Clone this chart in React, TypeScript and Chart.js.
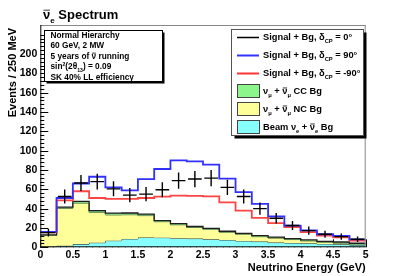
import React, { useEffect, useRef } from 'react';
import { Chart, registerables } from 'chart.js';
Chart.register(...registerables);

// Energy bin edges (GeV), 20 bins of 250 MeV
const binEdges = [0, 0.25, 0.5, 0.75, 1, 1.25, 1.5, 1.75, 2, 2.25, 2.5, 2.75, 3, 3.25, 3.5, 3.75, 4, 4.25, 4.5, 4.75, 5];

// Signal + Bg, dCP = 0 (points with error bars)
const signalDcp0 = [15.2, 52.5, 66.5, 68, 60.5, 54, 55, 59.5, 69, 70.6, 71.6, 62, 52.6, 40, 30, 22.5, 17.3, 13.5, 11, 8.3];
const signalDcp0Err = [3.9, 7.2, 8.2, 8.2, 7.8, 7.3, 7.4, 7.7, 8.3, 8.4, 8.5, 7.9, 7.3, 6.3, 5.5, 4.7, 4.2, 3.7, 3.3, 2.9];
// Signal + Bg, dCP = 90
const signalDcp90 = [16, 51, 66, 73, 62, 59, 70.5, 81, 90, 89, 85.5, 71, 57, 45, 32, 22.5, 17.5, 13.5, 11.8, 8.3];
// Signal + Bg, dCP = -90
const signalDcpM90 = [15.5, 48.5, 58, 51, 50, 50, 51, 52.5, 53.5, 53.3, 52.6, 46.4, 38, 30.5, 25, 21, 15.6, 12, 10.4, 7];
// Backgrounds (stacked: beam at bottom, NC, then CC on top)
const beamBg = [0.5, 1.5, 3.3, 4.8, 6.9, 8.7, 10.2, 10, 9.4, 9, 8.3, 7.6, 6.6, 5.9, 4.9, 4.5, 4.2, 3.5, 3.1, 2.4];
const ncBg = [11.8, 38.8, 42.4, 31.4, 26.6, 25, 22.6, 16.5, 13.9, 11.5, 10.2, 8, 6.9, 5.1, 4.6, 3.5, 2.4, 1.7, 1.2, 0.3];
const ccBg = [0.5, 1.2, 1.8, 1.8, 1.8, 1.8, 1.5, 1.2, 1.2, 1, 1, 1, 1, 1, 1, 1, 1, 1, 1.2, 1.5];

const yMax = 230;

const FONT = '"Liberation Sans", Arial, Helvetica, sans-serif';

type Seg = { t: string; sub?: boolean; sup?: boolean; bar?: boolean };

function drawRich(ctx: CanvasRenderingContext2D, segs: Seg[], x: number, y: number, size: number) {
  ctx.textBaseline = 'alphabetic';
  ctx.textAlign = 'left';
  let cx = x;
  for (const s of segs) {
    const small = s.sub || s.sup;
    const fs = small ? size * 0.62 : size;
    ctx.font = `bold ${fs}px ${FONT}`;
    const dy = s.sub ? size * 0.28 : s.sup ? -size * 0.42 : 0;
    ctx.fillText(s.t, cx, y + dy);
    const w = ctx.measureText(s.t).width;
    if (s.bar) {
      ctx.save();
      ctx.lineWidth = 0.8;
      ctx.strokeStyle = ctx.fillStyle as string;
      ctx.beginPath();
      ctx.moveTo(cx + 0.5, y - size * 0.68);
      ctx.lineTo(cx + w - 0.3, y - size * 0.68);
      ctx.stroke();
      ctx.restore();
    }
    cx += w;
  }
  return cx - x;
}

function stepPoints(vals: number[]) {
  return binEdges.map((e, i) => ({ x: e, y: vals[Math.min(i, vals.length - 1)] }));
}

const overlayPlugin = {
  id: 'overlay',
  beforeDatasetsDraw(chart: any) {
    const ctx = chart.ctx as CanvasRenderingContext2D;
    const xs = chart.scales.x;
    const ys = chart.scales.y;
    const ca = chart.chartArea;
    ctx.save();
    ctx.strokeStyle = '#000';
    ctx.lineWidth = 1;
    // x ticks
    for (let i = 0; i <= 50; i++) {
      const v = i * 0.1;
      const px = Math.round(xs.getPixelForValue(v)) + 0.5;
      const len = i % 5 === 0 ? 8 : 4;
      ctx.beginPath();
      ctx.moveTo(px, ca.bottom);
      ctx.lineTo(px, ca.bottom - len);
      ctx.stroke();
    }
    ctx.restore();
  },
  afterDatasetsDraw(chart: any) {
    const ctx = chart.ctx as CanvasRenderingContext2D;
    const xs = chart.scales.x;
    const ys = chart.scales.y;
    const ca = chart.chartArea;
    ctx.save();
    // error-bar crosses for dCP = 0
    ctx.strokeStyle = '#000';
    ctx.lineWidth = 1.4;
    for (let i = 0; i < signalDcp0.length; i++) {
      const lo = binEdges[i];
      const hi = binEdges[i + 1];
      const c = (lo + hi) / 2;
      const w = (hi - lo) * 0.42;
      const v = signalDcp0[i];
      const e = signalDcp0Err[i];
      ctx.beginPath();
      ctx.moveTo(xs.getPixelForValue(c - w), ys.getPixelForValue(v));
      ctx.lineTo(xs.getPixelForValue(c + w), ys.getPixelForValue(v));
      ctx.moveTo(xs.getPixelForValue(c), ys.getPixelForValue(v - e));
      ctx.lineTo(xs.getPixelForValue(c), ys.getPixelForValue(v + e));
      ctx.stroke();
    }

    // y ticks
    ctx.lineWidth = 1;
    for (let i = 0; i <= 55; i++) {
      const v = i * 4;
      if (v > 220) break;
      const py = Math.round(ys.getPixelForValue(v)) + 0.5;
      const len = i % 5 === 0 ? 8 : 4;
      ctx.beginPath();
      ctx.moveTo(ca.left, py);
      ctx.lineTo(ca.left + len, py);
      ctx.stroke();
    }

    // frame
    ctx.strokeStyle = '#888';
    ctx.lineWidth = 1;
    ctx.beginPath();
    ctx.moveTo(ca.left, ca.top + 0.5);
    ctx.lineTo(ca.right, ca.top + 0.5);
    ctx.moveTo(ca.right - 0.5, ca.top);
    ctx.lineTo(ca.right - 0.5, ca.bottom);
    ctx.stroke();
    ctx.strokeStyle = '#000';
    ctx.beginPath();
    ctx.moveTo(ca.left + 0.5, ca.top);
    ctx.lineTo(ca.left + 0.5, ca.bottom);
    ctx.moveTo(ca.left, ca.bottom - 0.5);
    ctx.lineTo(ca.right, ca.bottom - 0.5);
    ctx.stroke();

    // title
    ctx.fillStyle = '#000';
    drawRich(ctx, [{ t: 'ν', bar: true }, { t: 'e', sub: true }, { t: ' Spectrum' }], 43, 19, 13);

    // axis titles
    ctx.font = `bold 11px ${FONT}`;
    ctx.textAlign = 'right';
    ctx.textBaseline = 'alphabetic';
    ctx.fillText('Neutrino Energy (GeV)', ca.right, 271);
    ctx.save();
    ctx.translate(16, 28);
    ctx.rotate(-Math.PI / 2);
    ctx.textAlign = 'right';
    ctx.fillText('Events / 250 MeV', 0, 0);
    ctx.restore();

    // info box
    const ib = { x: 44.5, y: 30.5, w: 118, h: 51 };
    ctx.fillStyle = '#000';
    ctx.fillRect(ib.x + 2, ib.y + 2, ib.w, ib.h);
    ctx.fillStyle = '#fff';
    ctx.fillRect(ib.x, ib.y, ib.w, ib.h);
    ctx.strokeStyle = '#000';
    ctx.lineWidth = 1;
    ctx.strokeRect(ib.x, ib.y, ib.w, ib.h);
    ctx.fillStyle = '#000';
    const infoLines: Seg[][] = [
      [{ t: 'Normal Hierarchy' }],
      [{ t: '60 GeV, 2 MW' }],
      [{ t: '5 years of ' }, { t: 'ν', bar: true }, { t: ' running' }],
      [{ t: 'sin' }, { t: '2', sup: true }, { t: '(2θ' }, { t: '13', sub: true }, { t: ') = 0.09' }],
      [{ t: 'SK 40% LL efficiency' }],
    ];
    infoLines.forEach((segs, i) => {
      drawRich(ctx, segs, 50.5, 35 + 10.4 * i + 3, 8.3);
    });

    // legend box
    const lb = { x: 231.5, y: 29.5, w: 132, h: 106 };
    ctx.fillStyle = '#000';
    ctx.fillRect(lb.x + 3, lb.y + 3, lb.w, lb.h);
    ctx.fillStyle = '#fff';
    ctx.fillRect(lb.x, lb.y, lb.w, lb.h);
    ctx.strokeStyle = '#555';
    ctx.strokeRect(lb.x, lb.y, lb.w, lb.h);

    const entries: { kind: 'line' | 'box'; color: string; segs: Seg[] }[] = [
      { kind: 'line', color: '#000', segs: [{ t: 'Signal + Bg, δ' }, { t: 'CP', sub: true }, { t: ' = 0°' }] },
      { kind: 'line', color: '#3333ff', segs: [{ t: 'Signal + Bg, δ' }, { t: 'CP', sub: true }, { t: ' = 90°' }] },
      { kind: 'line', color: '#ff3333', segs: [{ t: 'Signal + Bg, δ' }, { t: 'CP', sub: true }, { t: ' = -90°' }] },
      { kind: 'box', color: '#8cf58c', segs: [{ t: 'ν' }, { t: 'μ', sub: true }, { t: ' + ' }, { t: 'ν', bar: true }, { t: 'μ', sub: true }, { t: ' CC Bg' }] },
      { kind: 'box', color: '#ffff99', segs: [{ t: 'ν' }, { t: 'μ', sub: true }, { t: ' + ' }, { t: 'ν', bar: true }, { t: 'μ', sub: true }, { t: ' NC Bg' }] },
      { kind: 'box', color: '#88ffff', segs: [{ t: 'Beam ν' }, { t: 'e', sub: true }, { t: ' + ' }, { t: 'ν', bar: true }, { t: 'e', sub: true }, { t: ' Bg' }] },
    ];
    entries.forEach((en, i) => {
      const cy = 37 + 18 * i;
      if (en.kind === 'line') {
        ctx.strokeStyle = en.color;
        ctx.lineWidth = i === 0 ? 1.5 : 2;
        ctx.beginPath();
        ctx.moveTo(237, cy + 0.5);
        ctx.lineTo(259, cy + 0.5);
        ctx.stroke();
      } else {
        ctx.fillStyle = en.color;
        ctx.fillRect(237.5, cy - 6.5, 22, 13);
        ctx.strokeStyle = '#444';
        ctx.lineWidth = 1;
        ctx.strokeRect(237.5, cy - 6.5, 22, 13);
      }
      ctx.fillStyle = '#000';
      drawRich(ctx, en.segs, 263, cy + 3.3, 9.3);
    });
    ctx.restore();
  },
};

export default function App() {
  const ref = useRef<HTMLCanvasElement | null>(null);
  useEffect(() => {
    document.body.style.margin = '0';
    const canvas = ref.current!;
    const cyanTop = beamBg.slice();
    const yellowTop = beamBg.map((b, i) => b + ncBg[i]);
    const greenTop = yellowTop.map((y, i) => y + ccBg[i]);
    const chart = new Chart(canvas, {
      type: 'line',
      data: {
        datasets: [
          { label: 'Beam', data: stepPoints(cyanTop), stepped: true, fill: 'origin', backgroundColor: '#88ffff', borderColor: '#2a2a2a', borderWidth: 1, pointRadius: 0, order: 4 },
          { label: 'NC', data: stepPoints(yellowTop), stepped: true, fill: '-1', backgroundColor: '#ffff99', borderColor: '#4f6a3f', borderWidth: 1, pointRadius: 0, order: 3 },
          { label: 'CC', data: stepPoints(greenTop), stepped: true, fill: '-1', backgroundColor: '#7fd07f', borderColor: '#1e1e1e', borderWidth: 1.3, pointRadius: 0, order: 2 },
          { label: 'm90', data: stepPoints(signalDcpM90), stepped: true, fill: false, borderColor: '#ff4444', borderWidth: 1.8, pointRadius: 0, order: 1 },
          { label: 'p90', data: stepPoints(signalDcp90), stepped: true, fill: false, borderColor: '#3030ff', borderWidth: 1.8, pointRadius: 0, order: 0 },
        ],
      } as any,
      options: {
        animation: false,
        responsive: false,
        maintainAspectRatio: false,
        layout: { padding: { left: 0, top: 25, right: 41.3, bottom: 0 } },
        plugins: { legend: { display: false }, tooltip: { enabled: false }, title: { display: false } },
        scales: {
          x: {
            type: 'linear',
            min: 0,
            max: 5,
            grid: { display: false, drawTicks: false },
            border: { display: false },
            ticks: {
              stepSize: 0.5,
              padding: 2,
              maxRotation: 0,
              autoSkip: false,
              color: '#000',
              font: { family: FONT, size: 10.5, weight: 'bold' },
              callback: (v: any) => String(Math.round(Number(v) * 10) / 10),
            },
            afterFit: (s: any) => { s.height = 28.7; },
          },
          y: {
            type: 'linear',
            min: 0,
            max: yMax,
            grid: { display: false, drawTicks: false },
            border: { display: false },
            ticks: {
              stepSize: 20,
              padding: 3,
              autoSkip: false,
              color: '#000',
              font: { family: FONT, size: 10.5, weight: 'bold' },
            },
            afterBuildTicks: (s: any) => { s.ticks = s.ticks.filter((t: any) => t.value % 20 === 0 && t.value <= 220); },
            afterFit: (s: any) => { s.width = 40.3; },
          },
        },
      } as any,
      plugins: [overlayPlugin],
    });
    return () => chart.destroy();
  }, []);
  return (
    <div style={{ position: 'absolute', left: 0, top: 0, width: 407, height: 276 }}>
      <canvas ref={ref} width={407} height={276} style={{ width: 407, height: 276, display: 'block' }} />
    </div>
  );
}
